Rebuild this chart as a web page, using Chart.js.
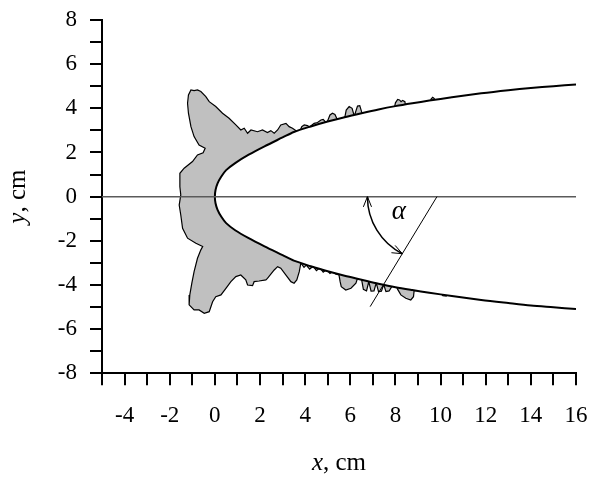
<!DOCTYPE html>
<html>
<head>
<meta charset="utf-8">
<script src="https://cdn.jsdelivr.net/npm/chart.js@4/dist/chart.umd.min.js"></script>
<style>
  html, body { margin: 0; padding: 0; background: #fff; }
  #wrap { width: 590px; height: 480px; }
</style>
</head>
<body>
<div id="wrap"><canvas id="c" width="590" height="480"></canvas></div>
<script>
// ---- data ----
// body (upper and lower branches of the nose contour), x in cm
const bodyX      = [0, 0.03, 0.12, 0.28, 0.5, 0.9, 1.5, 2.2, 3.0, 3.5, 4.25, 5.0, 5.75, 6.5, 7.25, 8.0, 8.75, 9.5, 10.5, 11.8, 13.0, 14.0, 15.0, 16.0];
const bodyYUpper = [0, 0.3, 0.6, 0.9, 1.2, 1.52, 1.9, 2.28, 2.68, 2.93, 3.18, 3.4, 3.6, 3.78, 3.95, 4.1, 4.23, 4.35, 4.5, 4.68, 4.82, 4.92, 5.0, 5.08];
const bodyYLower = [0, -0.3, -0.6, -0.9, -1.2, -1.52, -1.88, -2.25, -2.65, -2.9, -3.15, -3.38, -3.58, -3.76, -3.94, -4.1, -4.23, -4.35, -4.5, -4.68, -4.82, -4.93, -5.01, -5.09];

// outer contour of the grey region (x, y pairs, traced from upper right, round the front, to lower right)
const cavityX = [10.6, 9.75, 9.72, 9.65, 9.58, 9.55, 8.45, 8.42, 8.32, 8.25, 8.18, 8.1, 8.0, 7.95,
  6.55, 6.5, 6.42, 6.32, 6.24, 6.2, 6.15, 6.08, 5.95, 5.82, 5.76,
  5.43, 5.32, 5.21, 5.1, 4.99, 4.92, 4.8, 4.7, 4.55, 4.4, 4.25,
  4.2, 4.1, 3.96, 3.85, 3.78, 3.66, 3.44, 3.29, 3.15, 2.92, 2.78, 2.63, 2.48, 2.33, 2.11, 1.89, 1.6, 1.45, 1.3, 1.15,
  0.93, 0.63, 0.34, 0.04, -0.25, -0.4, -0.62, -0.77, -0.92, -1.06, -1.17, -1.21, -1.17, -1.06, -0.92, -0.7, -0.43, -0.52,
  -0.77, -0.99, -1.36, -1.55, -1.55, -1.51,
  -1.58, -1.51, -1.43, -1.21, -0.84, -0.54, -0.62, -0.77, -0.92, -1.02, -1.11, -1.14, -0.92, -0.7, -0.47, -0.25, -0.1,
  0.04, 0.27, 0.49, 0.71, 0.93, 1.15, 1.37, 1.45, 1.67, 1.74, 1.96, 2.26, 2.33, 2.63, 2.78, 2.92, 3.15, 3.37, 3.51, 3.63,
  3.74, 3.81, 3.95, 4.05, 4.2, 4.35, 4.5, 4.65, 4.8, 4.95, 5.1, 5.25, 5.35,
  5.5, 5.55, 5.6, 5.8, 6.03, 6.25, 6.32,
  6.5, 6.58, 6.72, 6.82, 6.92, 7.05, 7.15, 7.25, 7.38, 7.48, 7.58, 7.72, 7.85,
  8.05, 8.1, 8.24, 8.46, 8.68, 8.8, 8.83, 10.0, 10.1, 10.25, 10.3, 10.6];
const cavityY = [4.3, 4.3, 4.44, 4.5, 4.42, 4.25, 4.1, 4.3, 4.36, 4.3, 4.38, 4.4, 4.25, 4.0,
  3.7, 3.85, 4.12, 4.1, 3.85, 3.7, 3.75, 4.0, 4.08, 3.92, 3.6,
  3.48, 3.72, 3.78, 3.7, 3.42, 3.36, 3.5, 3.47, 3.36, 3.32, 3.2,
  3.15, 3.22, 3.25, 3.17, 3.0, 2.94, 3.1, 3.17, 3.32, 3.25, 3.02, 2.87, 2.99, 2.9, 3.02, 2.94, 3.02, 2.87, 3.1, 3.02,
  3.25, 3.55, 3.78, 4.08, 4.3, 4.53, 4.76, 4.83, 4.8, 4.83, 4.61, 4.23, 3.78, 3.17, 2.72, 2.34, 2.19, 1.99,
  1.89, 1.59, 1.29, 1.06, 0.45, 0.08,
  -0.38, -0.83, -1.43, -1.88, -2.11, -2.26, -2.41, -2.79, -3.4, -3.92, -4.45, -4.9, -5.13, -5.13, -5.28, -5.21, -4.76,
  -4.53, -4.45, -4.15, -3.85, -3.62, -3.55, -3.77, -4.0, -4.03, -3.85, -3.82, -3.77, -3.7, -3.32, -3.17, -3.24, -3.55, -3.85, -3.92, -3.77,
  -3.4, -3.0, -3.2, -3.1, -3.28, -3.15, -3.35, -3.22, -3.42, -3.3, -3.48, -3.38, -3.5,
  -3.55, -3.85, -4.08, -4.23, -4.15, -3.92, -3.7,
  -3.75, -4.2, -4.27, -3.85, -4.28, -4.27, -3.9, -4.3, -4.28, -3.98, -4.3, -4.27, -4.05,
  -4.08, -4.2, -4.45, -4.6, -4.68, -4.53, -4.25, -4.35, -4.48, -4.5, -4.3, -4.3];

// angle annotation
const angleLineX = [6.88, 9.84];
const angleLineY = [-4.98, 0];
const arcCenter = [9.6, 0];
const arcStart  = [6.76, 0];
const arcEnd    = [8.32, -2.56];
const alphaPos  = [8.15, -0.68];

// axes
const xMin = -5, xMax = 16, yMin = -8, yMax = 8;
const xTickLabels = [-4, -2, 0, 2, 4, 6, 8, 10, 12, 14, 16];
const yTickLabels = [-8, -6, -4, -2, 0, 2, 4, 6, 8];

// ---- build ----
const pts = (xs, ys) => xs.map((v, i) => ({ x: v, y: ys[i] }));
const bodyPts = pts(bodyX.slice().reverse(), bodyYUpper.slice().reverse()).concat(pts(bodyX.slice(1), bodyYLower.slice(1)));
const cavityPts = pts(cavityX, cavityY);

const SERIF = "'Liberation Serif', 'Times New Roman', serif";

const annot = {
  id: 'annot',
  afterDatasetsDraw(chart) {
    const { ctx, scales: { x, y } } = chart;
    const cx = x.getPixelForValue(arcCenter[0]), cy = y.getPixelForValue(arcCenter[1]);
    const sx = x.getPixelForValue(arcStart[0]), sy = y.getPixelForValue(arcStart[1]);
    const ex = x.getPixelForValue(arcEnd[0]), ey = y.getPixelForValue(arcEnd[1]);
    const r = Math.hypot(sx - cx, sy - cy);
    const a0 = Math.atan2(sy - cy, sx - cx);
    const a1 = Math.atan2(ey - cy, ex - cx);
    ctx.save();
    ctx.strokeStyle = '#000';
    ctx.lineWidth = 1.5;
    ctx.beginPath();
    ctx.arc(cx, cy, r, a1, a0 < a1 ? a0 + 2 * Math.PI : a0, false);
    ctx.stroke();
    const arrow = (tx, ty, dx, dy) => {
      const L = 11, ang = 0.38;
      const base = Math.atan2(dy, dx) + Math.PI;
      ctx.beginPath();
      ctx.moveTo(tx + L * Math.cos(base + ang), ty + L * Math.sin(base + ang));
      ctx.lineTo(tx, ty);
      ctx.lineTo(tx + L * Math.cos(base - ang), ty + L * Math.sin(base - ang));
      ctx.lineWidth = 1;
      ctx.stroke();
    };
    const psx = cx + r * Math.cos(a0), psy = cy + r * Math.sin(a0);
    arrow(psx, psy, -Math.sin(a0), Math.cos(a0));
    const pex = cx + r * Math.cos(a1), pey = cy + r * Math.sin(a1);
    arrow(pex, pey, Math.sin(a1), -Math.cos(a1));
    ctx.fillStyle = '#000';
    ctx.font = 'italic 27px ' + SERIF;
    ctx.textAlign = 'center';
    ctx.textBaseline = 'middle';
    ctx.fillText('α', x.getPixelForValue(alphaPos[0]), y.getPixelForValue(alphaPos[1]));
    ctx.restore();
  },
  afterDraw(chart) {
    const { ctx, chartArea } = chart;
    ctx.save();
    ctx.fillStyle = '#000';
    ctx.textBaseline = 'alphabetic';
    ctx.textAlign = 'left';
    const it = 'italic 25px ' + SERIF, nm = '25px ' + SERIF;
    ctx.font = it; const w1 = ctx.measureText('x').width;
    ctx.font = nm; const w2 = ctx.measureText(', cm').width;
    let sx = (chartArea.left + chartArea.right) / 2 - (w1 + w2) / 2;
    ctx.font = it; ctx.fillText('x', sx, 470);
    ctx.font = nm; ctx.fillText(', cm', sx + w1, 470);
    ctx.translate(25, (chartArea.top + chartArea.bottom) / 2);
    ctx.rotate(-Math.PI / 2);
    ctx.font = it; const v1 = ctx.measureText('y').width;
    ctx.font = nm; const v2 = ctx.measureText(', cm').width;
    let sy = -(v1 + v2) / 2;
    ctx.font = it; ctx.fillText('y', sy, 0);
    ctx.font = nm; ctx.fillText(', cm', sy + v1, 0);
    ctx.restore();
  }
};

new Chart(document.getElementById('c'), {
  type: 'scatter',
  data: {
    datasets: [
      { type: 'line', data: pts(angleLineX, angleLineY), borderColor: '#000', borderWidth: 1,
        pointRadius: 0, fill: false, tension: 0, order: 1 },
      { type: 'line', data: pts([xMin, xMax], [0, 0]), borderColor: '#5a5a5a', borderWidth: 1.5,
        pointRadius: 0, fill: false, tension: 0, order: 2 },
      { type: 'line', data: bodyPts, borderColor: '#000', borderWidth: 2, backgroundColor: '#ffffff',
        pointRadius: 0, fill: 'shape', tension: 0.3, order: 3 },
      { type: 'line', data: cavityPts, borderColor: '#000', borderWidth: 1.2, backgroundColor: '#c0c0c0',
        pointRadius: 0, fill: 'shape', tension: 0, order: 4 }
    ]
  },
  options: {
    responsive: false,
    animation: false,
    devicePixelRatio: 1,
    layout: { padding: { left: 0, right: 14, top: 20, bottom: 0 } },
    plugins: { legend: { display: false }, tooltip: { enabled: false } },
    scales: {
      x: {
        type: 'linear', min: xMin, max: xMax,
        afterFit: (s) => { s.height = 106.7; s.paddingLeft = 0; s.paddingRight = 0; },
        grid: { drawOnChartArea: false, drawTicks: true, tickLength: 12, color: '#000', lineWidth: 2 },
        border: { display: true, color: '#000', width: 2 },
        ticks: {
          stepSize: 1, autoSkip: false, maxRotation: 0, padding: 17, color: '#000',
          font: { family: SERIF, size: 23 },
          callback: (v) => xTickLabels.includes(v) ? String(v) : ''
        }
      },
      y: {
        type: 'linear', min: yMin, max: yMax,
        afterFit: (s) => { s.width = 102; s.paddingTop = 0; s.paddingBottom = 0; },
        grid: { drawOnChartArea: false, drawTicks: true, tickLength: 12, color: '#000', lineWidth: 2 },
        border: { display: true, color: '#000', width: 2 },
        ticks: {
          stepSize: 1, autoSkip: false, padding: 13, color: '#000',
          font: { family: SERIF, size: 23 },
          callback: (v) => yTickLabels.includes(v) ? String(v) : ''
        }
      }
    }
  },
  plugins: [annot]
});
</script>
</body>
</html>
